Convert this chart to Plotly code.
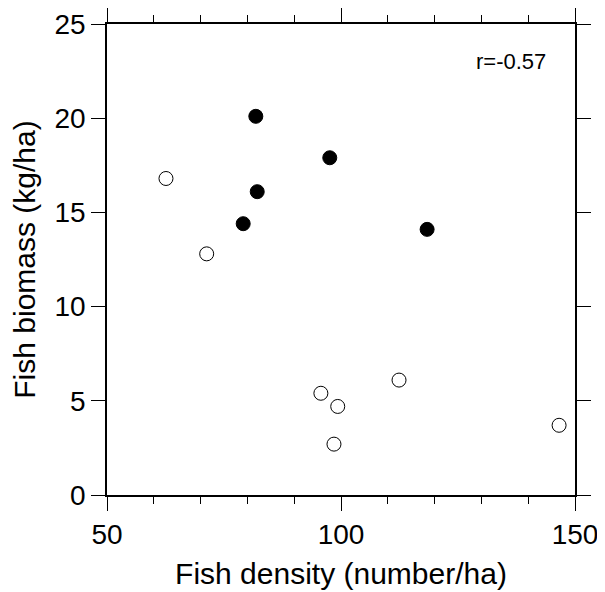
import plotly.graph_objects as go

# filled circles
filled_x = [81.8, 82.1, 79.1, 97.6, 118.4]
filled_y = [20.1, 16.1, 14.4, 17.9, 14.1]

# open circles
open_x = [62.6, 71.3, 112.4, 95.7, 99.3, 98.5, 146.6]
open_y = [16.8, 12.8, 6.1, 5.4, 4.7, 2.7, 3.7]

r_text = "r=-0.57"

FONT = "Liberation Sans, Arial, sans-serif"

fig = go.Figure()
fig.add_trace(go.Scatter(
    x=open_x, y=open_y,
    mode="markers",
    marker=dict(size=14, color="white", line=dict(color="black", width=1)),
    showlegend=False,
))
fig.add_trace(go.Scatter(
    x=filled_x, y=filled_y,
    mode="markers",
    marker=dict(size=14, color="black", line=dict(color="black", width=1)),
    showlegend=False,
))

fig.add_annotation(
    x=136.3, y=23.0, text=r_text, showarrow=False,
    font=dict(size=22, color="black", family=FONT),
)

axis_common = dict(
    showline=True, linecolor="black", linewidth=1.5,
    mirror="ticks", ticks="outside", ticklen=14, tickwidth=1.2,
    tickcolor="black", showgrid=False, zeroline=False, automargin=False,
    tickfont=dict(size=28, color="black", family=FONT),
)

# page body adds an 8px margin, so the figure is a bit smaller than the window
fig.update_layout(
    width=597, height=584,
    margin=dict(l=99, r=30, t=16, b=97),
    plot_bgcolor="white", paper_bgcolor="white",
    xaxis=dict(
        range=[50, 150], dtick=50, tick0=50,
        minor=dict(dtick=10, ticklen=7, ticks="outside", tickcolor="black", tickwidth=1.2),
        title=dict(text="Fish density (number/ha)", font=dict(size=30, color="black", family=FONT), standoff=14),
        **axis_common,
    ),
    yaxis=dict(
        range=[0, 25], dtick=5,
        title=dict(text="Fish biomass (kg/ha)", font=dict(size=30, color="black", family=FONT), standoff=11),
        **axis_common,
    ),
)

fig.write_html("out.html")
